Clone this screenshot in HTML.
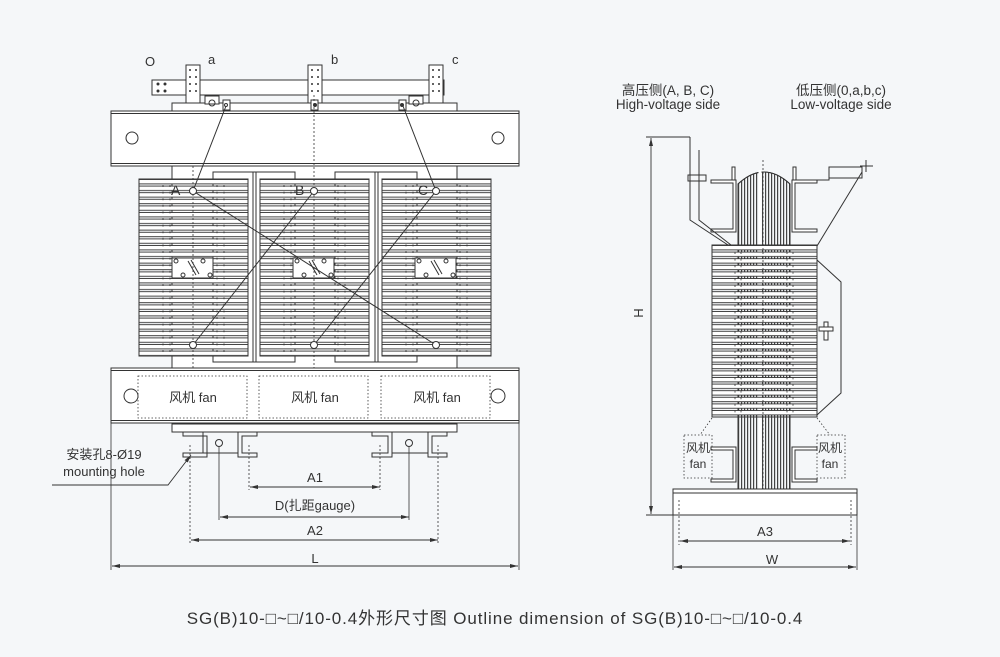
<!DOCTYPE html>
<html><head><meta charset="utf-8"><style>
html,body{margin:0;padding:0;background:#f5f7f9;}
svg{display:block}
text{font-family:"Liberation Sans","Noto Sans CJK SC",sans-serif;fill:#333}
</style></head><body>
<svg width="1000" height="657" viewBox="0 0 1000 657" xmlns="http://www.w3.org/2000/svg">
<defs>
<pattern id="fin" patternUnits="userSpaceOnUse" x="0" y="179" width="400" height="6.6">
<rect x="-1" y="0.5" width="402" height="4.4" fill="#fff" stroke="#333" stroke-width="0.9"/>
</pattern>
<pattern id="fin2" patternUnits="userSpaceOnUse" x="0" y="245" width="400" height="6.6">
<rect x="-1" y="0.5" width="402" height="4.4" fill="#fff" stroke="#333" stroke-width="0.9"/>
</pattern>
<pattern id="vst" patternUnits="userSpaceOnUse" width="3" height="10">
<rect x="0" y="0" width="1.2" height="10" fill="#444"/>
</pattern>
<pattern id="dots" patternUnits="userSpaceOnUse" x="0" y="68" width="7" height="8">
<circle cx="2" cy="3" r="1" fill="#333"/>
</pattern>
<marker id="ar" markerWidth="8" markerHeight="6" refX="8" refY="3" orient="auto-start-reverse" markerUnits="userSpaceOnUse"><path d="M0,1 L8,3 L0,5 Z" fill="#333"/></marker>
</defs>
<g fill="none" stroke="#333" stroke-width="1">
<!-- busbars -->
<rect x="152" y="80" width="292" height="15" fill="#fff"/>
<circle cx="158" cy="84" r="1" fill="#333"/><circle cx="165" cy="84" r="1" fill="#333"/><circle cx="158" cy="91" r="1" fill="#333"/><circle cx="165" cy="91" r="1" fill="#333"/>
<rect x="186" y="65" width="14" height="38" fill="#fff"/>
<rect x="308" y="65" width="14" height="38" fill="#fff"/>
<rect x="429" y="65" width="14" height="38" fill="#fff"/>
<g stroke="none" fill="#333">
<circle cx="190" cy="70" r="1"/><circle cx="196" cy="70" r="1"/><circle cx="190" cy="77" r="1"/><circle cx="196" cy="77" r="1"/><circle cx="190" cy="84" r="1"/><circle cx="196" cy="84" r="1"/><circle cx="190" cy="91" r="1"/><circle cx="196" cy="91" r="1"/>
<circle cx="312" cy="70" r="1"/><circle cx="318" cy="70" r="1"/><circle cx="312" cy="77" r="1"/><circle cx="318" cy="77" r="1"/><circle cx="312" cy="84" r="1"/><circle cx="318" cy="84" r="1"/><circle cx="312" cy="91" r="1"/><circle cx="318" cy="91" r="1"/>
<circle cx="433" cy="70" r="1"/><circle cx="439" cy="70" r="1"/><circle cx="433" cy="77" r="1"/><circle cx="439" cy="77" r="1"/><circle cx="433" cy="84" r="1"/><circle cx="439" cy="84" r="1"/><circle cx="433" cy="91" r="1"/><circle cx="439" cy="91" r="1"/>
</g>
<rect x="172" y="103" width="285" height="8" fill="#fff"/>
<rect x="205" y="96" width="14" height="8" fill="#fff"/><circle cx="212" cy="103" r="3"/>
<rect x="223" y="100" width="7" height="10" fill="#fff"/><circle cx="226" cy="105" r="1.5"/>
<rect x="311" y="100" width="7" height="10" fill="#fff"/><circle cx="315" cy="105" r="1.5" fill="#333"/>
<rect x="399" y="100" width="7" height="10" fill="#fff"/><circle cx="402" cy="105" r="1.5" fill="#333"/>
<rect x="409" y="96" width="14" height="8" fill="#fff"/><circle cx="416" cy="103" r="3"/>
<!-- top beam -->
<rect x="111" y="111" width="408" height="55" fill="#fff"/>
<line x1="111" y1="113.5" x2="519" y2="113.5"/><line x1="111" y1="163.5" x2="519" y2="163.5"/>
<circle cx="132" cy="138" r="6"/><circle cx="498" cy="138" r="6"/>
<!-- core -->
<rect x="172" y="166" width="285" height="202" fill="#fff"/>
<rect x="213" y="172" width="82" height="190" fill="#fff"/>
<rect x="335" y="172" width="82" height="190" fill="#fff"/>
<line x1="253" y1="172" x2="253" y2="362"/><line x1="256" y1="172" x2="256" y2="362"/>
<line x1="375" y1="172" x2="375" y2="362"/><line x1="378" y1="172" x2="378" y2="362"/>
<!-- coils -->
<rect x="139" y="179" width="109" height="177" fill="url(#fin)"/>
<rect x="260" y="179" width="109" height="177" fill="url(#fin)"/>
<rect x="382" y="179" width="109" height="177" fill="url(#fin)"/>
<rect x="139" y="179" width="109" height="177"/>
<rect x="260" y="179" width="109" height="177"/>
<rect x="382" y="179" width="109" height="177"/>
<g stroke-dasharray="2,4.6" stroke-width="0.8">
<line x1="163" y1="185" x2="163" y2="352"/><line x1="170" y1="185" x2="170" y2="352"/>
<line x1="217" y1="185" x2="217" y2="352"/><line x1="224" y1="185" x2="224" y2="352"/>
<line x1="284" y1="185" x2="284" y2="352"/><line x1="291" y1="185" x2="291" y2="352"/>
<line x1="338" y1="185" x2="338" y2="352"/><line x1="345" y1="185" x2="345" y2="352"/>
<line x1="406" y1="185" x2="406" y2="352"/><line x1="413" y1="185" x2="413" y2="352"/>
<line x1="460" y1="185" x2="460" y2="352"/><line x1="467" y1="185" x2="467" y2="352"/>
</g>
<g fill="#fff">
<rect x="172" y="258" width="41" height="20"/><rect x="293" y="258" width="41" height="20"/><rect x="415" y="258" width="41" height="20"/>
</g>
<g>
<circle cx="176" cy="261" r="2"/><circle cx="183" cy="275" r="2"/><circle cx="203" cy="261" r="2"/><circle cx="210" cy="275" r="2"/><path d="M188,261 L196,275"/><path d="M191,260 L199,274"/>
<circle cx="297" cy="261" r="2"/><circle cx="304" cy="275" r="2"/><circle cx="324" cy="261" r="2"/><circle cx="331" cy="275" r="2"/><path d="M309,261 L317,275"/><path d="M312,260 L320,274"/>
<circle cx="419" cy="261" r="2"/><circle cx="426" cy="275" r="2"/><circle cx="446" cy="261" r="2"/><circle cx="453" cy="275" r="2"/><path d="M431,261 L439,275"/><path d="M434,260 L442,274"/>
</g>
<!-- center lines -->
<g stroke-dasharray="2,2" stroke-width="0.8"><line x1="193" y1="166" x2="193" y2="368"/><line x1="314" y1="95" x2="314" y2="432"/></g>
<!-- connections -->
<path d="M226,106 L193,191 L436,345"/>
<path d="M403,106 L436,191 L314,345"/>
<path d="M314,191 L193,345"/>
<g fill="#fff"><circle cx="193" cy="191" r="3.5"/><circle cx="314" cy="191" r="3.5"/><circle cx="436" cy="191" r="3.5"/><circle cx="193" cy="345" r="3.5"/><circle cx="314" cy="345" r="3.5"/><circle cx="436" cy="345" r="3.5"/></g>
<!-- bottom beam -->
<rect x="111" y="368" width="408" height="55" fill="#fff"/>
<line x1="111" y1="370.5" x2="519" y2="370.5"/><line x1="111" y1="420.5" x2="519" y2="420.5"/>
<circle cx="131" cy="396" r="7"/><circle cx="498" cy="396" r="7"/>
<g stroke-dasharray="1.5,2" stroke-width="0.8"><rect x="138" y="376" width="109" height="42"/><rect x="259" y="376" width="109" height="42"/><rect x="381" y="376" width="109" height="42"/></g>
<!-- plate & channels -->
<rect x="172" y="424" width="285" height="8" fill="#fff"/>
<path d="M183,432 H203 V453 H183 V457 H207 V436 H200" />
<path d="M183,432 V436 H200"/>
<path d="M257,432 H238 V457 H257 V453 H242 V436 H257 Z"/>
<path d="M372,432 H392 V457 H372 V453 H388 V436 H372 Z"/>
<path d="M447,432 H428 V457 H447 V453 H432 V436 H447 Z"/>
<line x1="203" y1="453" x2="238" y2="453"/><line x1="392" y1="453" x2="428" y2="453"/>
<circle cx="219" cy="443" r="3.5"/><circle cx="409" cy="443" r="3.5"/>
<!-- dimension extension lines -->
<g stroke-width="0.8">
<line x1="219" y1="447" x2="219" y2="520"/><line x1="409" y1="447" x2="409" y2="520"/>
<line x1="111" y1="423" x2="111" y2="570"/><line x1="519" y1="423" x2="519" y2="570"/>
</g>
<g stroke-width="0.8" stroke-dasharray="2,2">
<line x1="190" y1="445" x2="190" y2="545"/><line x1="438" y1="445" x2="438" y2="545"/>
<line x1="249" y1="445" x2="249" y2="490"/><line x1="380" y1="445" x2="380" y2="490"/>
</g>
<g stroke-width="0.9">
<line x1="250" y1="487" x2="380" y2="487" marker-start="url(#ar)" marker-end="url(#ar)"/>
<line x1="220" y1="517" x2="409" y2="517" marker-start="url(#ar)" marker-end="url(#ar)"/>
<line x1="191" y1="540" x2="438" y2="540" marker-start="url(#ar)" marker-end="url(#ar)"/>
<line x1="112" y1="566" x2="518" y2="566" marker-start="url(#ar)" marker-end="url(#ar)"/>
<path d="M52,485 H168 L191,455" marker-end="url(#ar)"/>
</g>

<!-- RIGHT VIEW -->
<g stroke-width="0.9">
<line x1="646" y1="137" x2="690" y2="137"/>
<line x1="646" y1="515" x2="673" y2="515"/>
<line x1="651" y1="138" x2="651" y2="514" marker-start="url(#ar)" marker-end="url(#ar)"/>
</g>
<path d="M738,490 V184 Q764,160 790,184 V490 Q764,505 738,490 Z" fill="url(#vst)"/>
<path d="M738,490 V184 Q764,160 790,184 V490 Q764,505 738,490 Z"/>
<line x1="760" y1="170" x2="760" y2="495" stroke="#fff" stroke-width="3"/>
<path d="M711,180 H736 V232 H711 V229 H733 V183 H711 Z" fill="#fff"/>
<path d="M817,180 H792 V232 H817 V229 H795 V183 H817 Z" fill="#fff"/>
<path d="M711,447 H736 V482 H711 V479 H733 V450 H711 Z" fill="#fff"/>
<path d="M817,447 H792 V482 H817 V479 H795 V450 H817 Z" fill="#fff"/>
<rect x="732" y="167" width="3" height="13" fill="#fff"/><rect x="793" y="167" width="3" height="13" fill="#fff"/>
<path d="M690,137 V220 L728,245"/>
<path d="M699,150 V220 L731,245"/>
<rect x="688" y="175" width="18" height="6"/>
<path d="M792,180 H829 V167 H862 V178 H829"/>
<path d="M866,160 V172 M860,166 H873"/>
<path d="M862,172 L817,246"/>
<path d="M817,260 L841,282 V393 L817,415"/>
<rect x="824" y="322" width="4" height="18" fill="#fff"/><rect x="819" y="327" width="14" height="4" fill="#fff"/>
<rect x="712" y="245" width="105" height="172" fill="url(#fin2)"/>
<rect x="712" y="245" width="105" height="172"/>
<g stroke-dasharray="2,4.6" stroke-width="0.8"><line x1="735" y1="252" x2="735" y2="415"/><line x1="741" y1="252" x2="741" y2="415"/><line x1="787" y1="252" x2="787" y2="415"/><line x1="793" y1="252" x2="793" y2="415"/></g>
<line x1="763" y1="160" x2="763" y2="490" stroke-dasharray="2,2" stroke-width="0.8"/>
<g stroke-dasharray="1.5,2" stroke-width="0.8">
<rect x="684" y="435" width="28" height="43"/><rect x="817" y="435" width="28" height="43"/>
<path d="M712,418 L700,435 M817,418 L830,435"/>
</g>
<rect x="673" y="489" width="184" height="26" fill="#fff"/>
<line x1="673" y1="493" x2="857" y2="493"/>
<g stroke-width="0.8" stroke-dasharray="2,2"><line x1="679" y1="500" x2="679" y2="545"/><line x1="851" y1="500" x2="851" y2="545"/></g>
<g stroke-width="0.8"><line x1="673" y1="515" x2="673" y2="570"/><line x1="857" y1="515" x2="857" y2="570"/></g>
<g stroke-width="0.9">
<line x1="680" y1="541" x2="850" y2="541" marker-start="url(#ar)" marker-end="url(#ar)"/>
<line x1="674" y1="567" x2="856" y2="567" marker-start="url(#ar)" marker-end="url(#ar)"/>
</g>
</g>
<g font-size="13">
<text x="145" y="66">O</text><text x="208" y="64">a</text><text x="331" y="64">b</text><text x="452" y="64">c</text>
</g>
<g font-size="14"><text x="171" y="195">A</text><text x="295" y="195">B</text><text x="418" y="195">C</text></g>
<g font-size="13" text-anchor="middle">
<text x="193" y="402">风机 fan</text><text x="315" y="402">风机 fan</text><text x="437" y="402">风机 fan</text>
<text x="315" y="482">A1</text><text x="315" y="510">D(扎距gauge)</text><text x="315" y="535">A2</text><text x="315" y="563">L</text>
<text x="104" y="459">安装孔8-Ø19</text><text x="104" y="476">mounting hole</text>
<text x="668" y="95" font-size="13.5">高压侧(A, B, C)</text><text x="668" y="109" font-size="13.5">High-voltage side</text>
<text x="841" y="95" font-size="13.5">低压侧(0,a,b,c)</text><text x="841" y="109" font-size="13.5">Low-voltage side</text>
<text x="698" y="452" font-size="12">风机</text><text x="698" y="468" font-size="12">fan</text>
<text x="830" y="452" font-size="12">风机</text><text x="830" y="468" font-size="12">fan</text>
<text x="765" y="536">A3</text><text x="772" y="564">W</text>
<text x="643" y="313" transform="rotate(-90 643 313)">H</text>
<text x="495" y="624" font-size="17" letter-spacing="0.9">SG(B)10-□~□/10-0.4外形尺寸图  Outline dimension of SG(B)10-□~□/10-0.4</text>
</g>
</svg>
</body></html>
